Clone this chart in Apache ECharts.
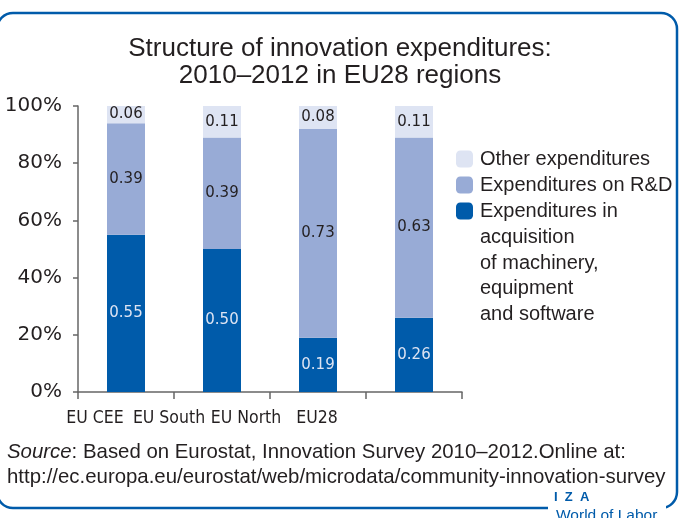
<!DOCTYPE html>
<html><head><meta charset="utf-8">
<script src="https://cdn.jsdelivr.net/npm/echarts@6/dist/echarts.min.js"></script>
<style>html,body{margin:0;padding:0;background:#fff}#c{width:680px;height:518px}</style>
</head><body><div id="c"></div>
<script>
const categories = ['EU CEE', 'EU South', 'EU North', 'EU28'];
const machinery = [0.55, 0.50, 0.19, 0.26];
const rnd = [0.39, 0.39, 0.73, 0.63];
const other = [0.06, 0.11, 0.08, 0.11];
const yTicks = [0, 20, 40, 60, 80, 100];
const seriesNames = ['Expenditures in acquisition of machinery, equipment and software', 'Expenditures on R&D', 'Other expenditures'];
// horizontal shift (px, to the left) of each category label, as in the original
const labelShift = [31, 53, 72, 97];

const FONT = '"Liberation Sans", Arial, sans-serif';
const NARROW = '"DejaVu Sans Condensed", "Liberation Sans Narrow", sans-serif';
const LBLFONT = '"DejaVu Sans", sans-serif';
const chart = echarts.init(document.getElementById('c'), null, {renderer: 'canvas'});
function mk(name, data, color, lblColor) {
  return {
    name, type: 'bar', stack: 's', data, barWidth: 38,
    itemStyle: {color},
    label: {show: true, position: 'inside', color: lblColor, fontFamily: LBLFONT, fontSize: 15,
      formatter: p => p.value.toFixed(2)},
    emphasis: {disabled: true}
  };
}
const rich = {};
labelShift.forEach((s, i) => { rich['l' + i] = {fontFamily: NARROW, fontSize: 17.5, color: '#231f20', padding: [0, 2 * s, 0, 0]}; });
chart.setOption({
  animation: false,
  title: {text: 'Structure of innovation expenditures:\n2010–2012 in EU28 regions', left: 'center', top: 30,
    textStyle: {fontFamily: FONT, fontSize: 26, fontWeight: 'normal', color: '#231f20', lineHeight: 27}},
  grid: {left: 78, right: 218, top: 106, bottom: 126},
  legend: {
    orient: 'vertical', left: 456, top: 149, padding: 0, itemWidth: 17, itemHeight: 17, itemGap: 6,
    data: [seriesNames[2], seriesNames[1], seriesNames[0]],
    formatter: n => n.startsWith('Expenditures in') ? 'Expenditures in' : n,
    textStyle: {fontFamily: FONT, fontSize: 20, color: '#231f20', lineHeight: 20, padding: [0, 0, 0, 2]},
    selectedMode: false
  },
  xAxis: {type: 'category', data: categories,
    axisLine: {lineStyle: {color: '#666', width: 1.5}},
    axisTick: {show: true, length: 7, lineStyle: {color: '#666', width: 1.5}},
    axisLabel: {interval: 0, margin: 17, rich,
      formatter: (v, i) => '{l' + i + '|' + v + '}'}},
  yAxis: {type: 'value', min: 0, max: 1, interval: 0.2,
    axisLine: {show: true, lineStyle: {color: '#666', width: 1.5}},
    axisTick: {show: true, length: 5, inside: false, lineStyle: {color: '#666', width: 1.5}},
    splitLine: {show: false},
    axisLabel: {fontFamily: LBLFONT, fontSize: 20, color: '#231f20', margin: 16,
      formatter: v => yTicks[Math.round(v * 5)] + '%'}},
  series: [
    mk(seriesNames[0], machinery, '#005baa', '#dde4f3'),
    mk(seriesNames[1], rnd, '#98abd6', '#231f20'),
    mk(seriesNames[2], other, '#dee4f3', '#231f20')
  ],
  graphic: [
    {type: 'rect', shape: {x: -3, y: 13, width: 680, height: 495, r: 16}, style: {fill: 'none', stroke: '#005baa', lineWidth: 2.5}, z: 0},
    {type: 'rect', shape: {x: 548, y: 500, width: 118, height: 18}, style: {fill: '#fff'}, z: 1},
    {type: 'text', left: 480, top: 225, z: 2, style: {text: 'acquisition\nof machinery,\nequipment\nand software', font: '20px ' + FONT, fill: '#231f20', lineHeight: 25.5}},
    {type: 'text', left: 7, top: 440, z: 2, style: {
      text: '{i|Source}: Based on Eurostat, Innovation Survey 2010–2012.Online at:\nhttp://ec.europa.eu/eurostat/web/microdata/community-innovation-survey',
      font: '20.4px ' + FONT, fill: '#231f20', lineHeight: 25,
      rich: {i: {font: 'italic 20.4px ' + FONT, fill: '#231f20'}}}},
    {type: 'text', left: 554, top: 491, z: 2, style: {text: 'I  Z  A', font: 'bold 13px ' + FONT, fill: '#005baa'}},
    {type: 'text', left: 556, top: 508, z: 2, style: {text: 'World of Labor', font: '15.5px ' + FONT, fill: '#005baa'}}
  ]
});
</script></body></html>
